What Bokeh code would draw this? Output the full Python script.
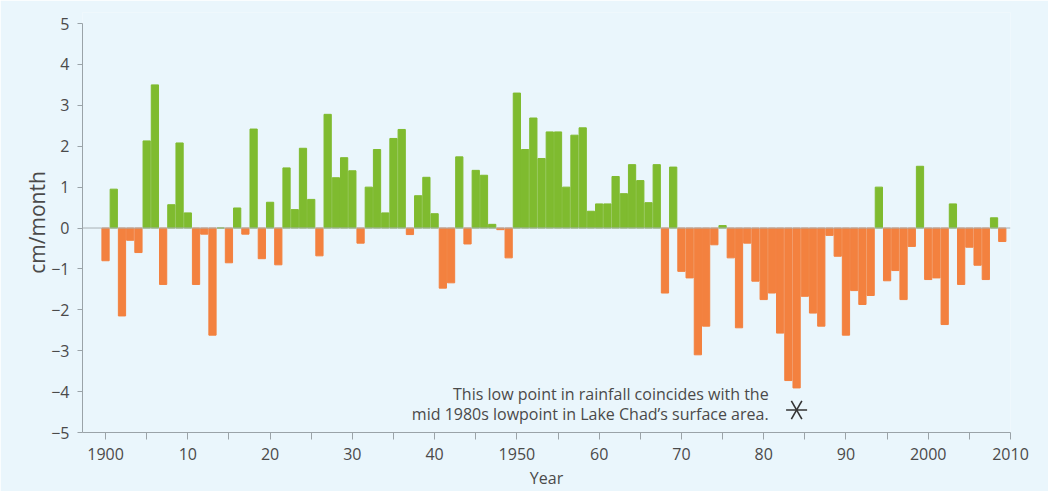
from bokeh.plotting import figure
from bokeh.models import FixedTicker, Span, Range1d, Label, ColumnDataSource
from bokeh.embed import file_html
from bokeh.resources import INLINE
from bokeh.core.properties import value

# ---- data ----
years = list(range(1900, 2010))
rainfall = [
    -0.80, 0.95, -2.15, -0.30, -0.60, 2.13, 3.50, -1.38, 0.57, 2.08,   # 1900-1909
    0.37, -1.38, -0.15, -2.62, 0.00, -0.85, 0.49, -0.15, 2.42, -0.75,  # 1910-1919
    0.63, -0.90, 1.47, 0.45, 1.95, 0.70, -0.68, 2.78, 1.23, 1.72,      # 1920-1929
    1.40, -0.37, 1.00, 1.92, 0.37, 2.19, 2.41, -0.16, 0.79, 1.24,      # 1930-1939
    0.35, -1.47, -1.34, 1.74, -0.39, 1.41, 1.29, 0.09, -0.04, -0.73,   # 1940-1949
    3.30, 1.92, 2.69, 1.70, 2.35, 2.35, 1.00, 2.27, 2.45, 0.41,        # 1950-1959
    0.59, 0.59, 1.26, 0.84, 1.55, 1.16, 0.62, 1.55, -1.59, 1.49,       # 1960-1969
    -1.06, -1.22, -3.10, -2.40, -0.41, 0.06, -0.73, -2.44, -0.37, -1.30,  # 1970-1979
    -1.75, -1.59, -2.57, -3.73, -3.91, -1.67, -2.08, -2.40, -0.18, -0.69,  # 1980-1989
    -2.62, -1.53, -1.87, -1.65, 1.00, -1.29, -1.04, -1.75, -0.45, 1.51,   # 1990-1999
    -1.26, -1.22, -2.36, 0.59, -1.38, -0.47, -0.91, -1.26, 0.25, -0.33,   # 2000-2009
]
x_ticks = [1900, 1905, 1910, 1915, 1920, 1925, 1930, 1935, 1940, 1945, 1950,
           1955, 1960, 1965, 1970, 1975, 1980, 1985, 1990, 1995, 2000, 2005, 2010]
x_tick_labels = {1900: "1900", 1910: "10", 1920: "20", 1930: "30", 1940: "40",
                 1950: "1950", 1960: "60", 1970: "70", 1980: "80", 1990: "90",
                 2000: "2000", 2010: "2010"}
y_ticks = [-5, -4, -3, -2, -1, 0, 1, 2, 3, 4, 5]
marker_year = [1984]
marker_value = [-4.45]
note_lines = ["This low point in rainfall coincides with the",
              "mid 1980s lowpoint in Lake Chad\u2019s surface area."]

GREEN = "#7fbb2f"
ORANGE = "#f3813f"
BG = "#eaf6fc"
AXIS = "#9aa3a8"
TEXT = "#4a4a4a"
FONT = "Open Sans"

colors = [GREEN if v >= 0 else ORANGE for v in rainfall]
src = ColumnDataSource(dict(year=years, val=rainfall, color=colors))

p = figure(width=1048, height=491, output_backend="svg", toolbar_location=None,
           x_range=Range1d(1897.2, 2010.0), y_range=Range1d(-5, 5.27),
           min_border_left=82, min_border_right=38, min_border_top=12, min_border_bottom=59,
           background_fill_color=BG, border_fill_color=BG)
p.outline_line_color = None
p.grid.visible = False

p.vbar(x="year", top="val", bottom=0, width=0.88, color="color", source=src)
p.add_layout(Span(location=0, dimension="width", line_color="#a8b0b4", line_width=1))

# annotation
p.add_layout(Label(x=1980.6, y=-4.06, text=note_lines[0], text_align="right",
                   text_baseline="middle", text_font=FONT, text_font_size="16px",
                   text_color=TEXT))
p.add_layout(Label(x=1980.6, y=-4.55, text=note_lines[1], text_align="right",
                   text_baseline="middle", text_font=FONT, text_font_size="16px",
                   text_color=TEXT))
for ang in (0, 1.0472, 2.0944):
    p.scatter(x=marker_year, y=marker_value, marker="dash", size=21, angle=ang,
              line_color="#333333", line_width=1.6)

# axes
xa = p.xaxis[0]
xa.ticker = FixedTicker(ticks=x_ticks)
xa.major_label_overrides = {t: x_tick_labels.get(t, "") for t in x_ticks}
xa.minor_tick_line_color = None
xa.major_tick_in = 0
xa.major_tick_out = 7
xa.axis_line_color = AXIS
xa.major_tick_line_color = AXIS
xa.major_label_standoff = 8
xa.major_label_text_font = FONT
xa.major_label_text_font_size = "16px"
xa.major_label_text_color = TEXT
xa.axis_label = "Year"
xa.axis_label_text_font = FONT
xa.axis_label_text_font_size = "16px"
xa.axis_label_text_font_style = "normal"
xa.axis_label_text_color = TEXT
xa.axis_label_standoff = 4

ya = p.yaxis[0]
ya.ticker = FixedTicker(ticks=y_ticks)
ya.bounds = (-5, 5)
ya.minor_tick_line_color = None
ya.major_tick_in = 0
ya.major_tick_out = 5
ya.axis_line_color = AXIS
ya.major_tick_line_color = AXIS
ya.major_label_standoff = 8
ya.major_label_text_font = FONT
ya.major_label_text_font_size = "16px"
ya.major_label_text_color = TEXT
ya.axis_label = "cm/month"
ya.axis_label_text_font = FONT
ya.axis_label_text_font_size = "21px"
ya.axis_label_text_font_style = "normal"
ya.axis_label_text_color = TEXT
ya.axis_label_standoff = -3

open("out.html", "w").write(file_html(p, INLINE))
